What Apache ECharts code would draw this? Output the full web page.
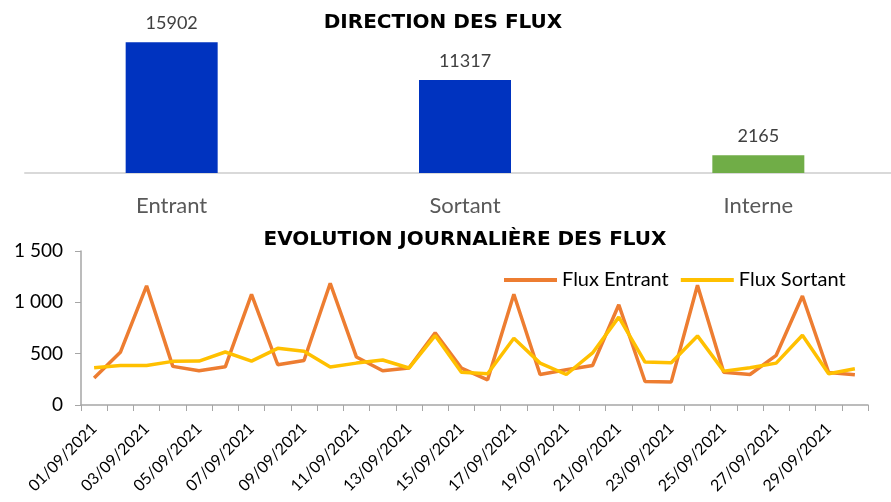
<!DOCTYPE html>
<html>
<head>
<meta charset="utf-8">
<script src="https://cdn.jsdelivr.net/npm/echarts@6/dist/echarts.min.js"></script>
<style>html,body{margin:0;padding:0;background:#fff;}#c{width:891px;height:502px;}</style>
</head>
<body>
<div id="c"></div>
<script>
const barCategories = ['Entrant', 'Sortant', 'Interne'];
const barValues = [15902, 11317, 2165];
const barColors = ['#0033BF', '#0033BF', '#70AD47'];

const dates = ['01/09/2021','02/09/2021','03/09/2021','04/09/2021','05/09/2021','06/09/2021','07/09/2021','08/09/2021','09/09/2021','10/09/2021',
  '11/09/2021','12/09/2021','13/09/2021','14/09/2021','15/09/2021','16/09/2021','17/09/2021','18/09/2021','19/09/2021','20/09/2021',
  '21/09/2021','22/09/2021','23/09/2021','24/09/2021','25/09/2021','26/09/2021','27/09/2021','28/09/2021','29/09/2021','30/09/2021'];
const fluxEntrant = [262,513,1160,376,333,372,1078,392,434,1186,467,333,360,703,360,245,1078,297,343,385,977,229,225,1167,320,297,484,1062,317,294];
const fluxSortant = [363,385,385,425,428,516,428,552,523,370,408,438,360,676,320,304,650,408,297,507,856,418,412,673,330,363,408,680,304,353];

const chart = echarts.init(document.getElementById('c'));
const fontFam = 'Lato, "Open Sans", sans-serif';
const titleFam = '"DejaVu Sans", sans-serif';
chart.setOption({
  animation: false,
  textStyle: { fontFamily: fontFam },
  title: [
    { text: 'DIRECTION DES FLUX', left: 438, top: 8, textAlign: 'center',
      textStyle: { fontSize: 20, fontWeight: 'bold', color: '#000', fontFamily: titleFam } },
    { text: 'EVOLUTION JOURNALIÈRE DES FLUX', left: 460, top: 225, textAlign: 'center',
      textStyle: { fontSize: 20, fontWeight: 'bold', color: '#000', fontFamily: titleFam } }
  ],
  legend: {
    data: ['Flux Entrant', 'Flux Sortant'],
    left: 499, top: 265,
    icon: 'rect', itemWidth: 53, itemHeight: 4, itemGap: 12,
    textStyle: { fontSize: 20, color: '#000', fontFamily: fontFam }
  },
  grid: [
    { left: 25, top: 30, width: 880, height: 143, outerBoundsMode: 'none', containLabel: false },
    { left: 81, right: 23, top: 251, bottom: 97, outerBoundsMode: 'none', containLabel: false }
  ],
  xAxis: [
    { gridIndex: 0, type: 'category', data: barCategories,
      axisLine: { lineStyle: { color: '#D9D9D9', width: 2 } },
      axisTick: { show: false },
      axisLabel: { margin: 22, fontSize: 22, color: '#595959', fontFamily: fontFam } },
    { gridIndex: 1, type: 'category', data: dates, boundaryGap: true,
      axisLine: { lineStyle: { color: '#A6A6A6', width: 1.5 } },
      axisTick: { show: true, interval: 0, length: 6, lineStyle: { color: '#A6A6A6' } },
      axisLabel: { interval: 1, rotate: 45, fontSize: 16, color: '#000', margin: 21, fontFamily: fontFam } }
  ],
  yAxis: [
    { gridIndex: 0, type: 'value', min: 0, max: 17400, show: false, splitLine: { show: false } },
    { gridIndex: 1, type: 'value', min: 0, max: 1500, interval: 500,
      axisLine: { show: true, lineStyle: { color: '#A6A6A6', width: 1.5 } },
      axisTick: { show: true, length: 6, lineStyle: { color: '#A6A6A6' } },
      splitLine: { show: false },
      axisLabel: { fontSize: 19, color: '#000', margin: 18, fontFamily: fontFam,
        formatter: v => String(v).replace(/\B(?=(\d{3})+(?!\d))/g, ' ') } }
  ],
  series: [
    { type: 'bar', xAxisIndex: 0, yAxisIndex: 0, barWidth: 92,
      data: barValues.map((v, i) => ({ value: v, itemStyle: { color: barColors[i] } })),
      label: { show: true, position: 'top', distance: 10, fontSize: 18, color: '#404040', fontFamily: fontFam } },
    { name: 'Flux Entrant', type: 'line', xAxisIndex: 1, yAxisIndex: 1, data: fluxEntrant,
      symbol: 'none', lineStyle: { color: '#ED7D31', width: 3.5 }, itemStyle: { color: '#ED7D31' } },
    { name: 'Flux Sortant', type: 'line', xAxisIndex: 1, yAxisIndex: 1, data: fluxSortant,
      symbol: 'none', lineStyle: { color: '#FFC000', width: 3.5 }, itemStyle: { color: '#FFC000' } }
  ]
});
</script>
</body>
</html>
